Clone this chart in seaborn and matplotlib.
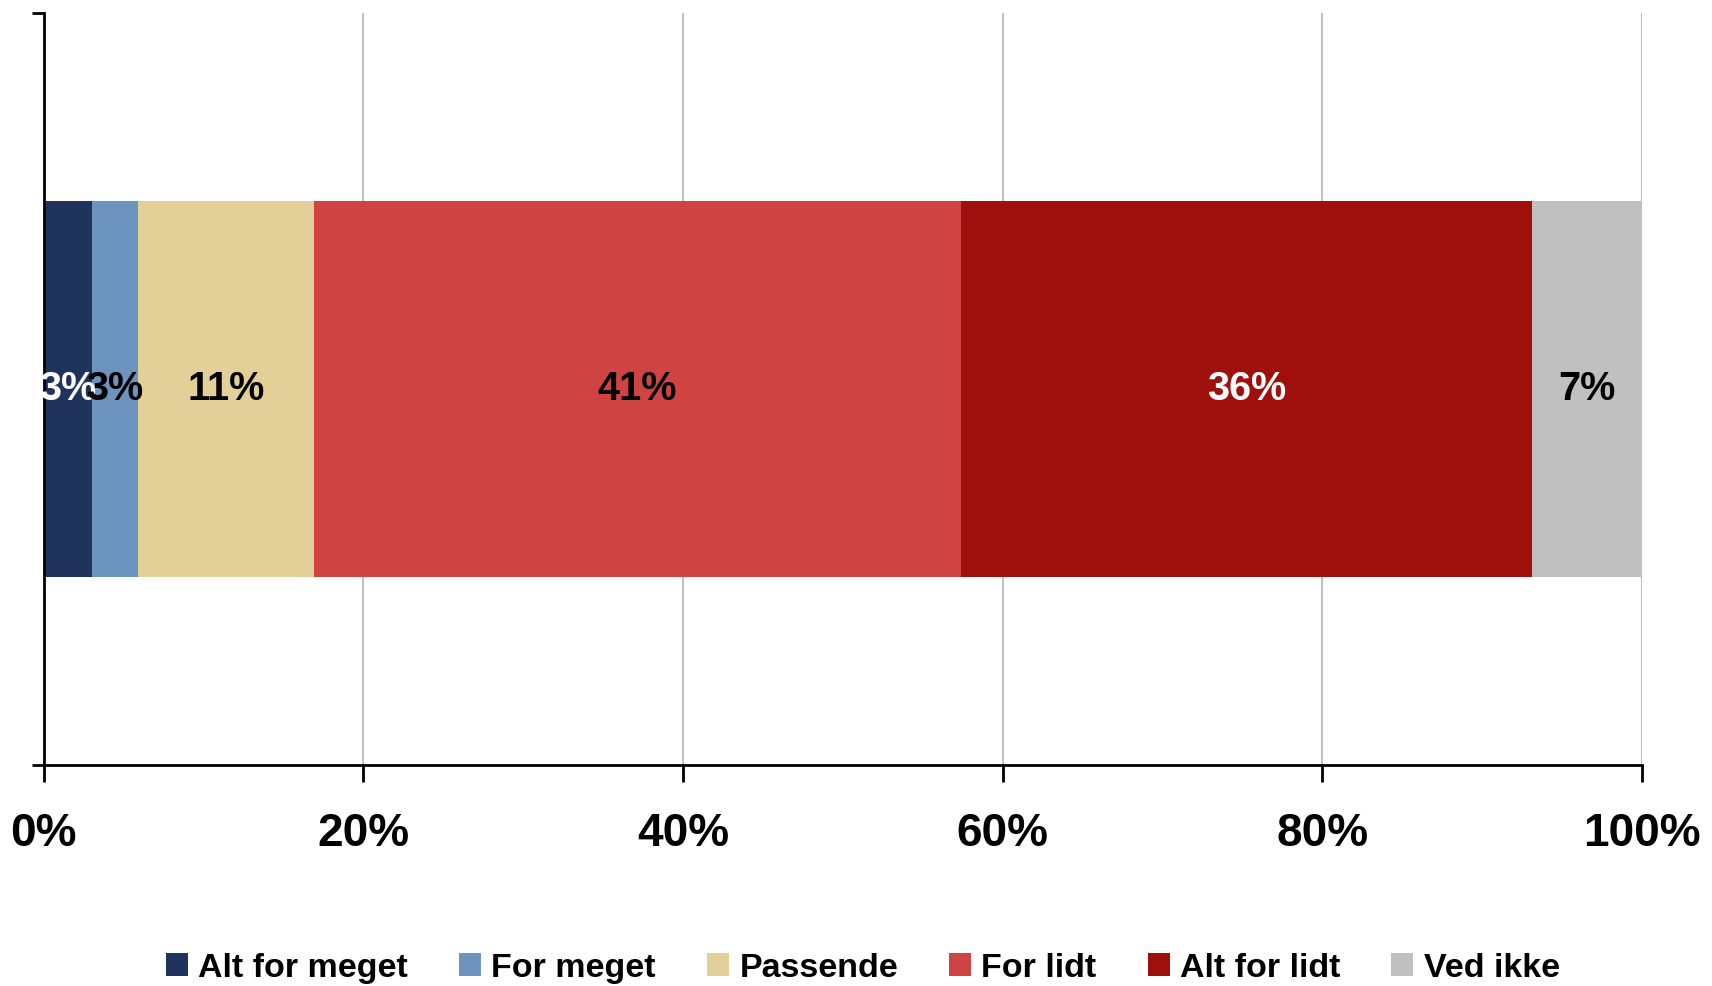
import numpy as np
import pandas as pd
import matplotlib
matplotlib.use("Agg")
import matplotlib.pyplot as plt
import seaborn as sns
from matplotlib.patches import Patch

# data
categories = ["Alt for meget", "For meget", "Passende", "For lidt", "Alt for lidt", "Ved ikke"]
values = [3.0, 2.9, 11.0, 40.5, 35.7, 6.9]
labels = ["3%", "3%", "11%", "41%", "36%", "7%"]
colors = ["#1F335D", "#6C94BE", "#E2D098", "#D04343", "#9F100C", "#C0C0C0"]
label_colors = ["white", "black", "black", "black", "white", "black"]
xticks = [0, 20, 40, 60, 80, 100]

sns.set_style("white")
plt.rcParams["font.family"] = ["Liberation Sans", "DejaVu Sans"]
plt.rcParams["font.weight"] = "bold"
plt.rcParams["text.color"] = "black"
plt.rcParams["xtick.color"] = "black"
plt.rcParams["ytick.color"] = "black"

df = pd.DataFrame({"kat": categories, "val": values})
df["cum"] = df["val"].cumsum()
df["start"] = df["cum"] - df["val"]

fig = plt.figure(figsize=(17.12, 9.86), dpi=100)
ax = fig.add_axes([0.0255, 0.2241, 0.9335, 0.7627])

# stacked bar: draw cumulative totals from the longest to the shortest
for i in range(len(df) - 1, -1, -1):
    sns.barplot(x=[df["cum"][i]], y=["q"], color=colors[i], orient="h",
                width=0.5, saturation=1, linewidth=0, ax=ax, zorder=2)

for i in range(len(df)):
    ax.text(df["start"][i] + df["val"][i] / 2, 0, labels[i], ha="center", va="center",
            fontsize=28.5, fontweight="bold", color=label_colors[i], zorder=5)

ax.set_xlim(0, 100)
ax.set_ylim(0.5, -0.5)
ax.set_xticks(xticks)
ax.set_xticklabels([f"{t}%" for t in xticks], fontsize=33, fontweight="bold", color="black")
ax.set_yticks([-0.5, 0.5])
ax.set_yticklabels([])
ax.set_xlabel("")
ax.set_ylabel("")
ax.grid(axis="x", color="#C0C0C0", linewidth=1.5, zorder=0)
ax.set_axisbelow(True)
for s in ["top", "right"]:
    ax.spines[s].set_visible(False)
for s in ["left", "bottom"]:
    ax.spines[s].set_color("black")
    ax.spines[s].set_linewidth(2)
ax.tick_params(axis="x", direction="out", length=12, width=2, color="black", pad=22, bottom=True)
ax.tick_params(axis="y", direction="out", length=9, width=2, color="black", left=True)

handles = [Patch(facecolor=c, edgecolor="none") for c in colors]
leg = fig.legend(handles, categories, loc="center", bbox_to_anchor=(0.504, 0.018), ncol=6,
                 frameon=False, prop={"weight": "bold", "size": 24.5},
                 handlelength=0.65, handleheight=0.65, handletextpad=0.3, columnspacing=1.5,
                 borderpad=0)
for t in leg.get_texts():
    t.set_color("black")

fig.savefig("out.png", dpi=100)
